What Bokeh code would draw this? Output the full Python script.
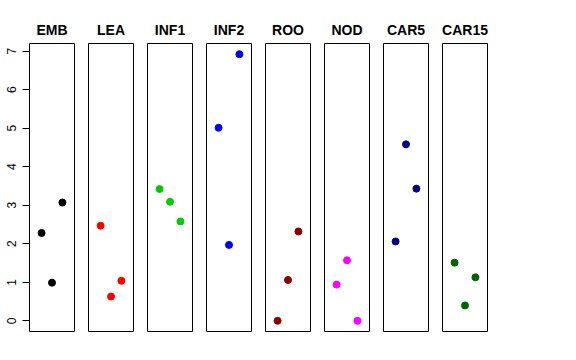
from bokeh.plotting import figure
from bokeh.layouts import row
from bokeh.models import Range1d, FixedTicker
from bokeh.embed import file_html
from bokeh.resources import INLINE

categories = ["EMB", "LEA", "INF1", "INF2", "ROO", "NOD", "CAR5", "CAR15"]
colors = ["#000000", "#FF0000", "#00CD00", "#0000FF", "#8B0000", "#FF00FF", "#000080", "#006400"]
replicate = [1, 2, 3]
emb = [2.28, 0.99, 3.07]
lea = [2.47, 0.63, 1.04]
inf1 = [3.42, 3.09, 2.58]
inf2 = [5.01, 1.97, 6.92]
roo = [0.00, 1.06, 2.32]
nod = [0.94, 1.57, 0.00]
car5 = [2.06, 4.58, 3.43]
car15 = [1.51, 0.40, 1.13]
series = [emb, lea, inf1, inf2, roo, nod, car5, car15]
y_ticks = [0, 1, 2, 3, 4, 5, 6, 7]

FONT = "Liberation Sans"
figs = []
for i, (cat, col, vals) in enumerate(zip(categories, colors, series)):
    first = i == 0
    p = figure(frame_width=45, frame_height=288, output_backend="svg", toolbar_location=None,
               x_range=Range1d(-0.16, 4.16), y_range=Range1d(-0.277, 7.197),
               min_border_left=29 if first else 0, min_border_right=14,
               min_border_top=43, min_border_bottom=4)
    p.title.text = cat
    p.title.align = "center"
    p.title.text_font = FONT
    p.title.text_font_size = "14px"
    p.title.text_font_style = "bold"
    p.title.text_color = "black"
    p.title.standoff = 11
    p.xaxis.visible = False
    p.grid.visible = False
    p.outline_line_color = "black"
    p.outline_line_width = 1
    p.outline_line_alpha = 1
    p.background_fill_color = "white"
    p.border_fill_color = "white"
    if first:
        ax = p.yaxis[0]
        ax.ticker = FixedTicker(ticks=y_ticks)
        ax.bounds = (0, 7)
        ax.major_label_orientation = "vertical"
        ax.major_tick_out = 7
        ax.major_tick_in = 0
        ax.minor_tick_line_color = None
        ax.major_label_text_font = FONT
        ax.major_label_text_font_size = "12px"
        ax.major_label_text_color = "black"
        ax.major_label_standoff = 6
        ax.axis_line_color = "black"
        ax.major_tick_line_color = "black"
    else:
        p.yaxis.visible = False
    p.scatter(replicate, vals, size=7, color=col, line_color=col)
    figs.append(p)

layout = row(*figs, spacing=0)
open("out.html", "w").write(file_html(layout, INLINE))
